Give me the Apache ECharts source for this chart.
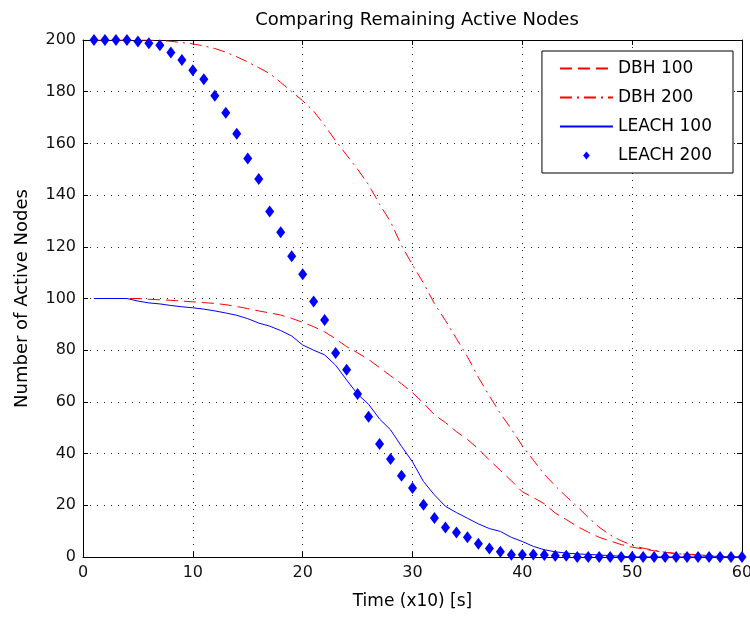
<!DOCTYPE html>
<html>
<head>
<meta charset="utf-8">
<script src="https://cdn.jsdelivr.net/npm/echarts@6/dist/echarts.min.js"></script>
<style>
html,body{margin:0;padding:0;background:#fff;}
#chart{width:750px;height:617px;}
</style>
</head>
<body>
<div id="chart"></div>
<script>
var timeSteps = [1,2,3,4,5,6,7,8,9,10,11,12,13,14,15,16,17,18,19,20,21,22,23,24,25,26,27,28,29,30,
  31,32,33,34,35,36,37,38,39,40,41,42,43,44,45,46,47,48,49,50,51,52,53,54,55,56,57,58,59,60];

var dbh100 = [100,100,100,100,100,99.7,99.5,99.3,99,98.7,98.4,98.1,97.6,96.9,96.1,95.2,94.4,93.6,92.3,90.8,
  89.1,87.1,84.4,81.4,79,76.4,73.3,70.1,67,63.6,59.5,55,52,48.5,45.5,41.8,37.5,33.5,29.5,25.2,
  23,20.6,17,14.5,11.8,9.6,7.6,6.2,4.8,3.8,3.1,2.4,1.8,1.4,1.1,0.9,0.5,0.2,0,0];

var dbh200 = [200,200,200,200,200,200,199.8,199.5,199,198.5,197.7,196.7,195.3,193.5,191.5,189.3,187,183.6,180,176.5,
  172.5,167,161,155.5,150,144,136.5,129.7,120.5,113,106,98,91.5,84.5,77.5,69.5,62.3,55.5,49.5,43,
  37.5,32,27.5,23.4,19.5,15.3,11.5,8.5,6.3,4.5,3.4,2.6,1.8,1.3,1,0.7,0.4,0.2,0,0];

var leach100 = [100,100,100,100,99,98.3,97.9,97.3,96.8,96.4,95.9,95.2,94.4,93.5,92.2,90.5,89.3,87.6,85.5,82,
  80,78.2,74.2,68.5,63,59.1,53.4,49.2,42.8,36.8,29.2,24,19.6,17.2,15,12.8,11,9.9,7.6,6,
  4.1,2.8,2,1.5,1.2,1,0.8,0.5,0.3,0,0,0,0,0,0,0,0,0,0,0];

var leach200 = [200,200,200,200,199.4,198.7,198,195.2,192.3,188.3,184.8,178.4,171.9,163.7,154.2,146.2,133.7,125.6,116.3,109.4,
  98.8,91.7,78.9,72.4,63.1,54.3,43.7,37.9,31.4,26.7,20.2,15.1,11.4,9.5,7.6,5.1,3.3,2,0.9,0.9,
  1,0.8,0.5,0.5,0,0,0,0,0,0,0,0,0,0,0,0,0,0,0,0];

var xTicks = [0,10,20,30,40,50,60];
var yTicks = [0,20,40,60,80,100,120,140,160,180,200];

function pairs(vals){ return timeSteps.map(function(t,i){ return [t, vals[i]]; }); }

var FONT = 'DejaVu Sans';
var chart = echarts.init(document.getElementById('chart'), null, {renderer:'canvas'});

var gridLine = {show:true, lineStyle:{color:'#222', width:1, type:[1,6]}};
var tickIn = {show:true, inside:true, length:5, lineStyle:{color:'#000'}};
var axLine = {show:true, onZero:false, lineStyle:{color:'#000', width:1}};
var noSym = {opacity:0};
var diamondIcon = 'path://M0,-1.3L0,-1.3M0,-0.75L0.62,0L0,0.75L-0.62,0ZM0,1.3L0,1.3';

chart.setOption({
  backgroundColor:'#fff',
  animation:false,
  title:{
    text:'Comparing Remaining Active Nodes',
    left:412, top:6, textAlign:'center',
    textStyle:{fontFamily:FONT, fontSize:18, fontWeight:'normal', color:'#000'}
  },
  grid:{left:83, right:8, top:40, bottom:60, containLabel:false, outerBoundsMode:'none'},
  legend:{
    orient:'vertical', right:17, top:51,
    backgroundColor:'#fff', borderColor:'#000', borderWidth:1, borderRadius:0,
    padding:[9,21,9,17], itemWidth:53, itemHeight:14, itemGap:12,
    textStyle:{fontFamily:FONT, fontSize:17, color:'#000', lineHeight:16},
    data:[
      {name:'DBH 100', itemStyle:noSym},
      {name:'DBH 200', itemStyle:noSym},
      {name:'LEACH 100', itemStyle:noSym},
      {name:'LEACH 200', icon:diamondIcon}
    ]
  },
  xAxis:[{
    type:'value', min:0, max:60, interval:10, position:'bottom',
    axisLine:axLine, axisTick:tickIn, splitLine:gridLine,
    axisLabel:{fontFamily:FONT, fontSize:16, color:'#111', margin:8,
      formatter:function(v){ return xTicks.indexOf(v) >= 0 ? String(v) : ''; }},
    name:'Time (x10) [s]', nameLocation:'middle', nameGap:36,
    nameTextStyle:{fontFamily:FONT, fontSize:17, color:'#000'}
  },{
    type:'value', min:0, max:60, interval:10, position:'top',
    axisLine:axLine, axisTick:tickIn, splitLine:{show:false}, axisLabel:{show:false}
  }],
  yAxis:[{
    type:'value', min:0, max:200, interval:20, position:'left',
    axisLine:axLine, axisTick:tickIn, splitLine:gridLine,
    axisLabel:{fontFamily:FONT, fontSize:16, color:'#111', margin:7,
      formatter:function(v){ return yTicks.indexOf(v) >= 0 ? String(v) : ''; }},
    name:'Number of Active Nodes', nameLocation:'middle', nameGap:52,
    nameTextStyle:{fontFamily:FONT, fontSize:18, color:'#000'}
  },{
    type:'value', min:0, max:200, interval:20, position:'right',
    axisLine:axLine, axisTick:tickIn, splitLine:{show:false}, axisLabel:{show:false}
  }],
  series:[
    {name:'DBH 100', type:'line', data:pairs(dbh100), symbol:'none', smooth:false,
     lineStyle:{color:'#ff0000', width:1, type:[12,6]}, itemStyle:{color:'#ff0000'}, z:3},
    {name:'DBH 200', type:'line', data:pairs(dbh200), symbol:'none',
     lineStyle:{color:'#ff0000', width:1, type:[12,5,2,5]}, itemStyle:{color:'#ff0000'}, z:3},
    {name:'LEACH 100', type:'line', data:pairs(leach100), symbol:'none',
     lineStyle:{color:'#0000ff', width:1}, itemStyle:{color:'#0000ff'}, z:4},
    {name:'LEACH 200', type:'scatter', data:pairs(leach200), symbol:'diamond', symbolSize:[9,12],
     itemStyle:{color:'#0000ff', opacity:1}, z:5}
  ]
});
</script>
</body>
</html>
